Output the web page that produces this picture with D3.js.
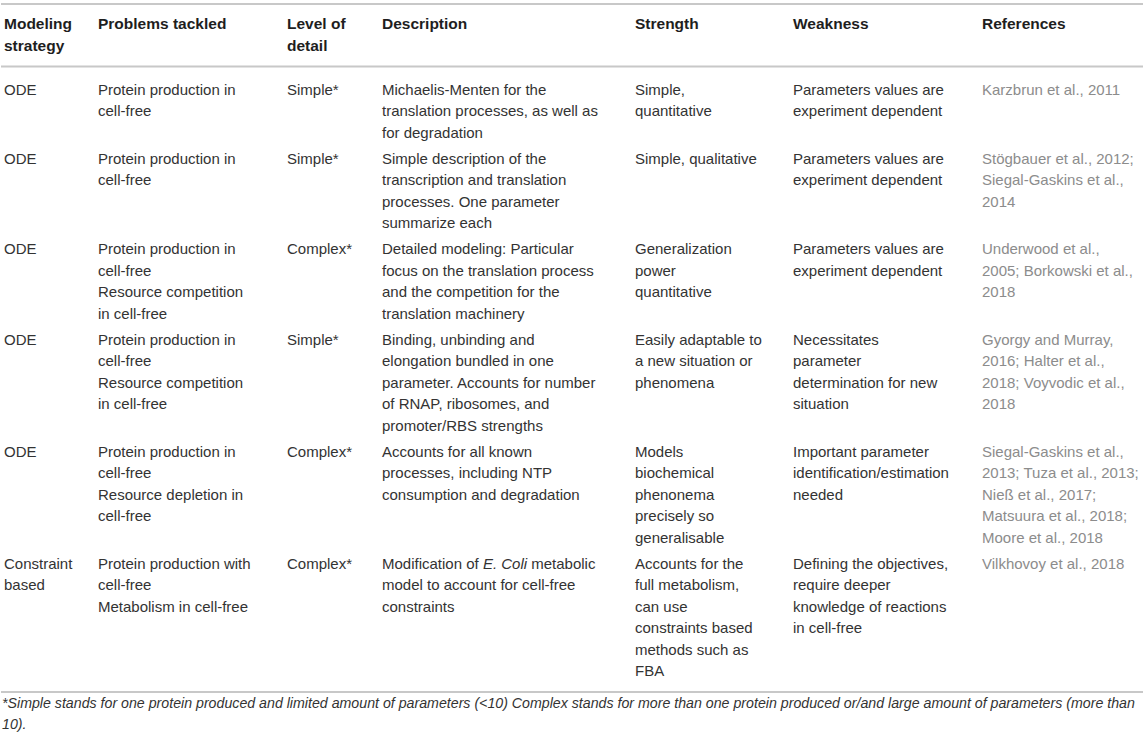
<!DOCTYPE html>
<html>
<head>
<meta charset="utf-8">
<script src="https://cdn.jsdelivr.net/npm/d3@7"></script>
<style>
  body { margin: 0; background: #fff; }
  svg { display: block; font-family: "Liberation Sans", Arial, Helvetica, sans-serif; }
</style>
</head>
<body>
<div id="table"></div>
<script>
// Table content (one entry per row, "\n" = line break as in the original)
const headers = ["Modeling\nstrategy", "Problems tackled", "Level of\ndetail", "Description", "Strength", "Weakness", "References"];

const strategy = ["ODE", "ODE", "ODE", "ODE", "ODE", "Constraint\nbased"];

const problems = [
  "Protein production in\ncell-free",
  "Protein production in\ncell-free",
  "Protein production in\ncell-free\nResource competition\nin cell-free",
  "Protein production in\ncell-free\nResource competition\nin cell-free",
  "Protein production in\ncell-free\nResource depletion in\ncell-free",
  "Protein production with\ncell-free\nMetabolism in cell-free"
];

const detail = ["Simple*", "Simple*", "Complex*", "Simple*", "Complex*", "Complex*"];

const description = [
  "Michaelis-Menten for the\ntranslation processes, as well as\nfor degradation",
  "Simple description of the\ntranscription and translation\nprocesses. One parameter\nsummarize each",
  "Detailed modeling: Particular\nfocus on the translation process\nand the competition for the\ntranslation machinery",
  "Binding, unbinding and\nelongation bundled in one\nparameter. Accounts for number\nof RNAP, ribosomes, and\npromoter/RBS strengths",
  "Accounts for all known\nprocesses, including NTP\nconsumption and degradation",
  "Modification of <i>E. Coli</i> metabolic\nmodel to account for cell-free\nconstraints"
];

const strength = [
  "Simple,\nquantitative",
  "Simple, qualitative",
  "Generalization\npower\nquantitative",
  "Easily adaptable to\na new situation or\nphenomena",
  "Models\nbiochemical\nphenonema\nprecisely so\ngeneralisable",
  "Accounts for the\nfull metabolism,\ncan use\nconstraints based\nmethods such as\nFBA"
];

const weakness = [
  "Parameters values are\nexperiment dependent",
  "Parameters values are\nexperiment dependent",
  "Parameters values are\nexperiment dependent",
  "Necessitates\nparameter\ndetermination for new\nsituation",
  "Important parameter\nidentification/estimation\nneeded",
  "Defining the objectives,\nrequire deeper\nknowledge of reactions\nin cell-free"
];

const references = [
  "Karzbrun et al., 2011",
  "Stögbauer et al., 2012;\nSiegal-Gaskins et al.,\n2014",
  "Underwood et al.,\n2005; Borkowski et al.,\n2018",
  "Gyorgy and Murray,\n2016; Halter et al.,\n2018; Voyvodic et al.,\n2018",
  "Siegal-Gaskins et al.,\n2013; Tuza et al., 2013;\nNieß et al., 2017;\nMatsuura et al., 2018;\nMoore et al., 2018",
  "Vilkhovoy et al., 2018"
];

const footnote = [
  "*Simple stands for one protein produced and limited amount of parameters (<10) Complex stands for more than one protein produced or/and large amount of parameters (more than",
  "10)."
];

const columns = [strategy, problems, detail, description, strength, weakness, references];

// layout
const width = 1145, height = 738;
const colX = [4, 98, 287, 382, 635, 793, 982];
const lineH = 21.5;
const rowPad = 4.5;
const firstOffset = 23;   // line rule -> centre of first text line
const topRule = 4, headRule = 66.5;

const svg = d3.select("#table")
  .append("svg")
  .attr("width", width)
  .attr("height", height);

const x = d3.scaleOrdinal()
  .domain(d3.range(columns.length))
  .range(colX);

// row heights from the number of lines in each row
const rowLines = strategy.map((_, r) => d3.max(columns, c => c[r].split("\n").length));
const rowHeights = rowLines.map(n => n * lineH + rowPad);
const rowTops = [headRule, ...d3.cumsum(rowHeights).map(v => headRule + v)];
const bottomRule = rowTops[rowTops.length - 1] + 18;

// write a multi-line cell, supports <i>..</i> segments
function cell(g, text, cx, cy, opts) {
  const lh = opts.lineH || lineH;
  const t = g.append("text")
    .attr("x", cx)
    .attr("y", cy)
    .attr("font-size", opts.size)
    .attr("font-weight", opts.weight || "normal")
    .attr("font-style", opts.style || "normal")
    .attr("fill", opts.color);
  text.split("\n").forEach((line, i) => {
    const parts = line.split(/(<i>.*?<\/i>)/).filter(p => p.length);
    parts.forEach((p, j) => {
      const ital = p.startsWith("<i>");
      const ts = t.append("tspan")
        .text(ital ? p.slice(3, -4) : p)
        .attr("font-style", ital ? "italic" : null);
      if (j === 0) ts.attr("x", cx).attr("y", cy + i * lh).attr("dy", "0.35em");
    });
  });
  return t;
}

// rules
svg.selectAll(".rule")
  .data([topRule, headRule, bottomRule])
  .enter()
  .append("line")
  .attr("class", "rule")
  .attr("x1", 1)
  .attr("x2", width - 2)
  .attr("y1", d => d)
  .attr("y2", d => d)
  .attr("stroke", "#c8c8c8")
  .attr("stroke-width", 2);

// header
const head = svg.append("g");
headers.forEach((h, i) => {
  cell(head, h, x(i), 24, { size: 15.5, weight: "bold", color: "#1e1e1e" });
});

// body
const body = svg.append("g");
columns.forEach((col, ci) => {
  col.forEach((txt, ri) => {
    cell(body, txt, x(ci), rowTops[ri] + firstOffset, {
      size: 15,
      color: ci === 6 ? "#8c8c8c" : "#333333"
    });
  });
});

// footnote
cell(svg.append("g"), footnote.join("\n"), 2, bottomRule + 11, {
  size: 14.2, style: "italic", color: "#333333"
});
</script>
</body>
</html>
